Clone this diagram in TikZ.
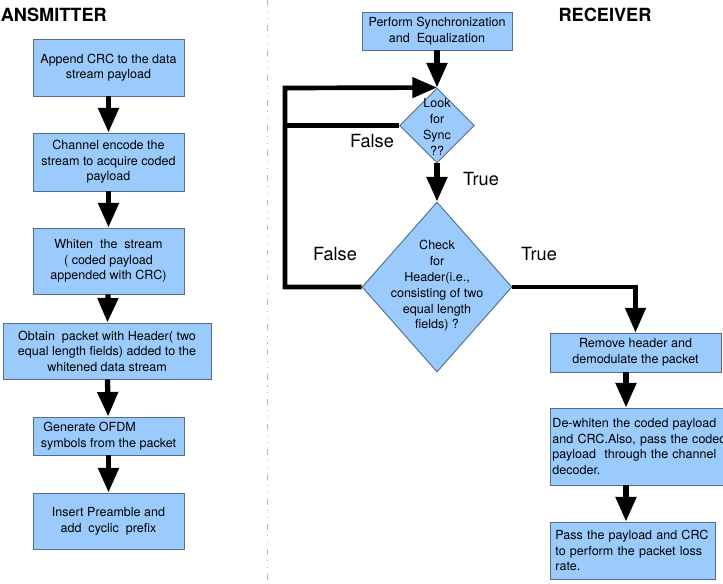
\documentclass[tikz,border=0pt]{standalone}
\usepackage{fontspec}
\setmainfont{TeX Gyre Heros}
\usetikzlibrary{arrows.meta}
\usetikzlibrary{shapes.geometric}
\definecolor{boxblue}{RGB}{155,203,252}
\definecolor{boxline}{RGB}{85,110,135}
\newlength\px
\setlength\px{0.03cm}

\begin{document}
\begin{tikzpicture}[x=0.03cm,y=-0.03cm,
    box/.style={draw=boxline, fill=boxblue, line width=0.8pt, minimum width=151\px,
      align=center, inner sep=2\px, font=\fontsize{10.7}{13.3}\selectfont},
    cond/.style={diamond, draw=boxline, fill=boxblue, line width=0.8pt, inner sep=0pt},
    condtext/.style={align=center, inner sep=0pt, font=\fontsize{10.7}{13.5}\selectfont},
    flow/.style={line width=4.5pt, -{Triangle[length=21pt,width=17pt]}},
    loopline/.style={line width=4pt},
    lbl/.style={inner sep=0pt, font=\fontsize{15.5}{18}\selectfont},
    title/.style={inner sep=0pt, font=\fontsize{15.5}{18}\selectfont\bfseries}]
  \useasboundingbox (0,0) rectangle (723,583);

  % separator
  \draw[gray!55, line width=0.7pt, dash pattern=on 5pt off 4.5pt on 0.9pt off 5pt on 0.9pt off 5pt] (267,0) -- (267,583);

  % transmitter
  \node[title, anchor=east] (txtitle) at (107,15) {TRANSMITTER};
  \node[box, minimum height=57\px] (t1) at (108.5,67.5) {Append CRC to the data\\stream payload};
  \node[box, minimum height=58\px] (t2) at (108.5,162) {Channel encode the\\stream to acquire coded\\payload};
  \node[box, minimum height=66\px] (t3) at (108.5,261) {Whiten\ \ the\ \ stream\\( coded payload\\appended with CRC)};
  \node[box, minimum width=208\px, minimum height=56\px] (t4) at (107,351) {Obtain\ \ packet with Header( two\\equal length fields) added to the\\whitened data stream};
  \node[box, minimum height=38\px] (t5) at (108.5,436) {Generate OFDM\hspace*{3em}\\symbols from the packet};
  \node[box, minimum height=56\px] (t6) at (108.5,521) {Insert Preamble and\\add\ \ cyclic\ \ prefix};
  \draw[flow] (t1) -- (t2);
  \draw[flow] (t2) -- (t3);
  \draw[flow] (t3) -- (t4);
  \draw[flow] (t4) -- (t5);
  \draw[flow] (t5) -- (t6);

  % receiver
  \node[title] (rxtitle) at (605,15) {RECEIVER};
  \node[box, minimum width=150\px, minimum height=38\px] (r1) at (437,31) {Perform Synchronization\\and\ \ Equalization};
  \node[cond, minimum width=75\px, minimum height=75\px] (sync) at (437,125.5) {};
  \node[condtext] (synctxt) at (437,127) {Look\\for\\Sync\\??};
  \node[cond, minimum width=150\px, minimum height=170\px] (chk) at (437,287) {};
  \node[condtext] (chktxt) at (437,286) {Check\\for\\Header(i.e.,\\consisting of two\\equal length\\fields) ?};
  \node[box, minimum width=171\px, minimum height=39\px] (r2) at (635.5,352.5) {Remove header and\\demodulate the packet};
  \node[box, anchor=west, minimum width=194\px, minimum height=77\px, text width=190\px, align=left] (r3) at (550,446.5) {De-whiten the coded payload\\and CRC.Also, pass the coded\\payload\ \ through the channel\\decoder.};
  \node[box, anchor=west, minimum width=165\px, minimum height=57\px, inner xsep=5\px, text width=155\px, align=left] (r4) at (550,550.5) {Pass the payload and CRC\\to perform the packet loss\\rate.};
  \coordinate (fb) at (285,88);
  \coordinate (rx) at (626,0);

  \draw[flow] (r1) -- (sync);
  \draw[flow] (sync) -- (chk);
  \draw[loopline] (sync.west) -- (sync.west -| fb);
  \draw[loopline, -{Triangle[length=21pt,width=17pt]}] (chk.west) -- (chk.west -| fb) -- (fb) -- (sync.north);
  \draw[loopline, -{Triangle[length=21pt,width=17pt]}] (chk.east) -- (chk.east -| r2) -- (r2.north);
  \draw[flow] (r2.south -| rx) -- (r3.north -| rx);
  \draw[flow] (r3.south -| rx) -- (r4.north -| rx);

  \node[lbl] (sfalse) at (372,141) {False};
  \node[lbl] (strue) at (481,179) {True};
  \node[lbl] (cfalse) at (335,254) {False};
  \node[lbl] (ctrue) at (539,254) {True};
\end{tikzpicture}
\end{document}
